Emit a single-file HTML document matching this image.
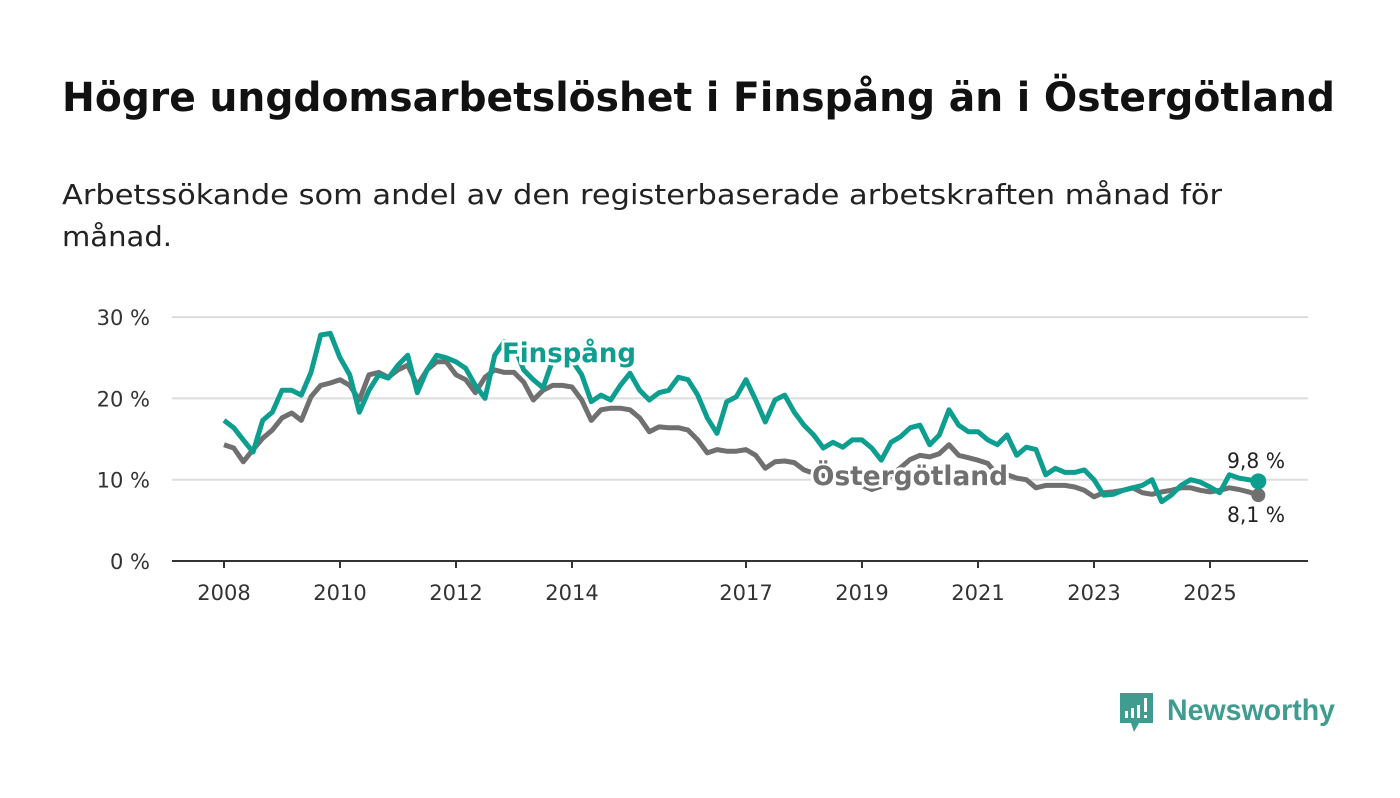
<!DOCTYPE html>
<html><head><meta charset="utf-8"><style>
body{margin:0;background:#fff;width:1400px;height:794px;overflow:hidden;font-family:"DejaVu Sans","Liberation Sans",sans-serif;}
svg text{font-family:"DejaVu Sans","Liberation Sans",sans-serif;}
svg text.logo{font-family:"Liberation Sans",sans-serif;}
</style></head><body>
<svg id="chart" width="1400" height="794" xmlns="http://www.w3.org/2000/svg">
<text x="62" y="111" font-size="40" font-weight="bold" fill="#111" textLength="1273" lengthAdjust="spacingAndGlyphs">Högre ungdomsarbetslöshet i Finspång än i Östergötland</text>
<text x="62" y="204" font-size="28" fill="#222" textLength="1160" lengthAdjust="spacingAndGlyphs">Arbetssökande som andel av den registerbaserade arbetskraften månad för</text>
<text x="62" y="246" font-size="28" fill="#222" textLength="110" lengthAdjust="spacingAndGlyphs">månad.</text>
<g id="grid"></g><g id="lines"></g><g id="labels"></g>
<g>
<path d="M1120 693 h33 v30 h-14 l-5 9 l-3 -9 h-11 z" fill="#3f9c8f"/>
<rect x="1125" y="711" width="3" height="7" fill="#fff"/><rect x="1131" y="708" width="3" height="10" fill="#fff"/><rect x="1137" y="705" width="3" height="13" fill="#fff"/><rect x="1144" y="698" width="3" height="14" fill="#fff"/><rect x="1144" y="715" width="3" height="3" fill="#fff"/>
<text class="logo" x="1167" y="720" font-size="30" font-weight="bold" fill="#3f9c8f" textLength="168" lengthAdjust="spacingAndGlyphs">Newsworthy</text>
</g>
</svg>
<script>
const startYear = 2008;
const stepMonths = 2;
const finspang = [17.3,16.4,14.9,13.4,17.3,18.3,21.0,21.0,20.4,23.2,27.8,28.0,25.0,22.9,18.3,21.0,22.9,22.5,24.1,25.3,20.7,23.5,25.3,25.0,24.5,23.7,21.6,20.0,25.3,27.0,26.5,23.5,22.3,21.3,24.7,25.7,24.7,22.9,19.6,20.4,19.8,21.6,23.1,21.0,19.8,20.7,21.0,22.6,22.3,20.4,17.6,15.7,19.6,20.2,22.3,19.8,17.1,19.8,20.4,18.3,16.7,15.5,13.9,14.6,14.0,14.9,14.9,13.9,12.4,14.6,15.3,16.4,16.7,14.3,15.5,18.6,16.7,15.9,15.9,14.9,14.3,15.5,13.0,14.0,13.7,10.6,11.4,10.9,10.9,11.2,10.0,8.1,8.2,8.7,9.0,9.3,10.0,7.3,8.1,9.3,10.0,9.7,9.1,8.4,10.6,10.2,10.0,9.8];
const ostergotland = [14.3,13.9,12.2,13.7,15.1,16.1,17.6,18.2,17.3,20.2,21.6,21.9,22.3,21.6,19.8,22.9,23.2,22.6,23.5,24.1,21.6,23.5,24.5,24.5,22.9,22.3,20.7,22.6,23.5,23.2,23.2,22.0,19.8,21.0,21.6,21.6,21.4,19.8,17.3,18.6,18.8,18.8,18.6,17.6,15.9,16.5,16.4,16.4,16.1,14.9,13.3,13.7,13.5,13.5,13.7,13.0,11.4,12.2,12.3,12.1,11.2,10.8,10.5,10.2,10.0,9.7,9.3,8.8,9.2,10.5,11.5,12.5,13.0,12.8,13.2,14.3,13.0,12.7,12.4,12.0,10.6,10.6,10.2,10.0,9.0,9.3,9.3,9.3,9.1,8.7,7.9,8.4,8.5,8.7,9.0,8.4,8.2,8.5,8.7,9.0,9.0,8.7,8.5,8.7,9.0,8.8,8.5,8.1];
const yTicks = [0,10,20,30];
const xTickYears = [2008,2010,2012,2014,2017,2019,2021,2023,2025];
const NS="http://www.w3.org/2000/svg";
const X=t=>224+(t-2008)*58, Y=v=>561-v*8.13;
const tOf=i=>startYear+i*stepMonths/12;
const grid=document.getElementById('grid'), lines=document.getElementById('lines'), labels=document.getElementById('labels');
function mk(tag,attrs,parent){const e=document.createElementNS(NS,tag);for(const k in attrs)e.setAttribute(k,attrs[k]);parent.appendChild(e);return e;}
yTicks.forEach(v=>{
  const l=mk('line',{x1:172,x2:1308,y1:Y(v),y2:Y(v),stroke:v===0?'#333':'#ddd','stroke-width':2},grid);
  
  
  const t=mk('text',{x:150,y:Y(v)+8,'text-anchor':'end','font-size':21,fill:'#333'},grid);
  t.textContent=v+' %';
  
  
});
xTickYears.forEach(y=>{
  const l=mk('line',{x1:X(y),x2:X(y),y1:561,y2:568,stroke:'#333','stroke-width':2},grid);
  
  
  const t=mk('text',{x:X(y),y:600,'text-anchor':'middle','font-size':21,fill:'#333'},grid);
  t.textContent=y;
  
  
});
function path(arr){return arr.map((v,i)=>(i?'L':'M')+X(tOf(i)).toFixed(1)+' '+Y(v).toFixed(1)).join(' ');}
const gp=mk('path',{d:path(ostergotland),fill:'none',stroke:'#707070','stroke-width':5,'stroke-linejoin':'round'},lines);


const fp=mk('path',{d:path(finspang),fill:'none',stroke:'#0e9e90','stroke-width':5,'stroke-linejoin':'round'},lines);


const fi=finspang.length-1, gi=ostergotland.length-1;
const gd=mk('circle',{cx:X(tOf(gi)),cy:Y(ostergotland[gi]),r:7,fill:'#707070'},lines);


const fd=mk('circle',{cx:X(tOf(fi)),cy:Y(finspang[fi]),r:8,fill:'#0e9e90'},lines);


function lab(txt,x,y,col,name,bold,size,len){
  const a={x:x,y:y,'font-size':size,fill:col,'font-weight':bold?'bold':'normal',stroke:'#fff','stroke-width':6,'paint-order':'stroke','stroke-linejoin':'round'};
  if(len){a.textLength=len;a.lengthAdjust='spacingAndGlyphs';}
  const t=mk('text',a,labels);
  t.textContent=txt;
  
  
}
lab('Finspång',502,362,'#0e9e90','finspang-label',true,27,134);
lab('Östergötland',812,485,'#707070','ostergotland-label',true,27,196);
lab(String(finspang[fi]).replace('.',',')+' %',1227,468,'#222','finspang-end-value',false,21,58);
lab(String(ostergotland[gi]).replace('.',',')+' %',1227,522,'#222','ostergotland-end-value',false,21,58);
</script>
</body></html>
